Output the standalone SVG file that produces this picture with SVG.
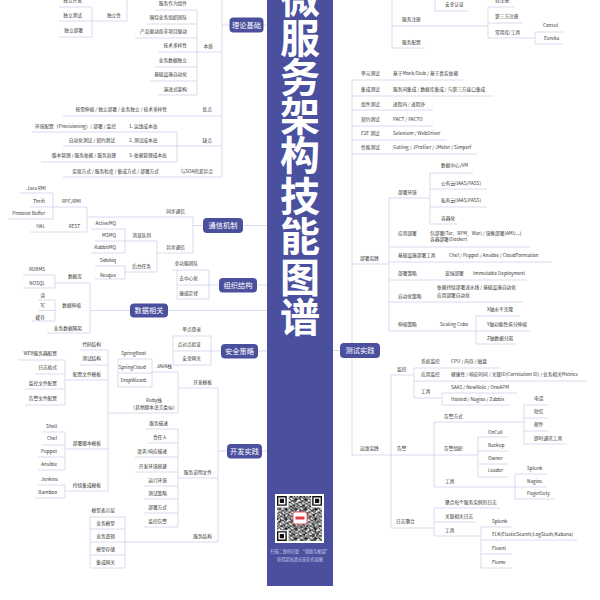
<svg xmlns="http://www.w3.org/2000/svg" width="600" height="600" viewBox="0 0 600 600">
<style>
text{font-family:"Noto Sans CJK SC","Noto Sans",sans-serif}
.t{font-size:4.7px;fill:#333}
.e{text-anchor:end}
.m{text-anchor:middle}
.box{fill:#4a509e}
.ct{font-size:7.2px;fill:#fff;text-anchor:middle}
.ln{fill:none;stroke:#c9cbe8;stroke-width:0.7}
.ti{font-size:40px;font-weight:bold;fill:#fff;text-anchor:middle}
.cap{font-size:4.2px;fill:#c3c6ea;text-anchor:middle}
</style>
<defs>
<pattern id="qr" width="9.8" height="9.8" patternUnits="userSpaceOnUse" x="277" y="496">
<path fill="#111" d="M0 0h1.4v1.4h-1.4zM2.8 0h2.8v1.4h-2.8zM7 0h1.4v1.4h-1.4zM1.4 1.4h1.4v1.4h-1.4zM5.6 1.4h1.4v1.4h-1.4zM8.4 1.4h1.4v2.8h-1.4zM0 2.8h1.4v1.4h-1.4zM2.8 2.8h1.4v1.4h-1.4zM7 2.8h1.4v1.4h-1.4zM4.2 4.2h2.8v1.4h-2.8zM8.4 4.2h1.4v1.4h-1.4zM1.4 5.6h2.8v1.4h-2.8zM7 5.6h1.4v1.4h-1.4zM0 7h1.4v1.4h-1.4zM4.2 7h1.4v1.4h-1.4zM8.4 7h1.4v1.4h-1.4zM1.4 8.4h1.4v1.4h-1.4zM5.6 8.4h2.8v1.4h-2.8z"/>
</pattern>
<pattern id="qr2" width="12.6" height="12.6" patternUnits="userSpaceOnUse" x="277" y="496">
<path fill="#111" d="M1.4 0h1.4v1.4h-1.4zM9.8 1.4h1.4v1.4h-1.4zM4.2 4.2h1.4v1.4h-1.4zM11.2 5.6h1.4v1.4h-1.4zM0 9.8h1.4v1.4h-1.4zM7 8.4h1.4v1.4h-1.4zM2.8 11.2h1.4v1.4h-1.4z"/>
</pattern>
</defs>
<rect width="600" height="600" fill="#fff"/>

<g id="connectors" class="ln">
<path d="M263 25H267M222 25H230M222 0V177M158 52H222M197 10V95M155 10H197M146 24H197M135 38H197M155 67H197M150 81H197M158 95H197M127 -1V21M59 21H127M92 7V37M59 7H92M59 37H92M63 116H222M177 132V162M32 132H177M63 146H222M41 162H177M63 177H222"/>
<path d="M243 225.5H267M193 225.5H203M193 217V253M87 217H193M87 207V232M30 207H87M53 193V219M20 193H53M8 219H53M30 232H87M157 253H193M157 241V272M95 241H157M125 229V253M91 229H125M91 253H125M125 272H157M125 266V279M95 266H125M95 279H125"/>
<path d="M257 285H267M177 270V299M172 270H209M177 285H219M177 299H209M209 270V299"/>
<path d="M168 310.5H267M90 310.5H130M90 283V333M55 283H90M55 275V288M23 275H55M23 288H55M55 300V321M38 300H55M38 310.5H55M32 321H55M47 333H90"/>
<path d="M258 351H267M173 336V365M173 336H211M173 351H221M173 365H211M211 336V365"/>
<path d="M262 451H267M218 451H227M218 388V542M178 388H218M178 372V413M152 372H178M152 359V387M118 359V387M118 359H152M118 373H152M118 387H152M108 413H178M108 350V491M80 350H108M80 365H108M65 380H108M65 360V405M18 360H65M35 374H65M25 389H65M25 405H65M65 449H108M65 432V470M42 432H65M42 445H65M38 457H65M38 470H65M65 491H108M65 485V498M38 485H65M35 498H65"/>
<path d="M178 478H218M178 429V527M145 429H178M148 443H178M135 457H178M135 472H178M144 486H178M144 499H178M144 513H178M144 527H178M125 542H218M125 517V568M90 517V568M90 517H125M90 529H125M90 542H125M90 555H125M90 568H125"/>
<path d="M333 350.5H340M392 -1V48M392 26H488M488 7V38M488 7H515M488 23H523M488 38H535M535 32V44M535 32H563M535 44H563M392 48H425M435 -1V11M435 11H468"/>
<path d="M352 80V455M352 80H463M352 96H494M352 110H433M352 126H433M352 140H447M352 154H477M352 264H389"/>
<path d="M389 198V331M389 198H430M430 173V224M430 173H473M430 189H487M430 207H487M430 224H458M389 247H530M389 262H552M389 280H527M389 302H523M389 331H476M476 316V344M476 316H520M476 331H530M476 344H515"/>
<path d="M352 455H478M391 375V528M391 375H414M414 368V398M414 368H500M414 381H587M414 398H442M442 393V405M442 393H517M442 405H510M434 422V487M434 422H524M524 405V444M524 405H548M524 418H548M524 431H548M524 444H567M478 437V477M478 437H508M478 451H508M478 464H508M478 477H508M434 487H515M515 474V499M515 474H547M515 487H547M515 499H555M391 528H434M434 508V536M434 508H500M434 522H476M434 536H481M481 527V568M481 527H512M481 540H577M481 554H512M481 568H512"/>
</g>

<g id="bar"><rect x="267" y="-1" width="66" height="587" class="box"/></g>
<g id="title">
<text class="ti" x="300" y="13">微</text>
<text class="ti" x="300" y="53">服</text>
<text class="ti" x="300" y="92">务</text>
<text class="ti" x="300" y="131">架</text>
<text class="ti" x="300" y="170">构</text>
<text class="ti" x="300" y="211">技</text>
<text class="ti" x="300" y="251">能</text>
<text class="ti" x="300" y="292">图</text>
<text class="ti" x="300" y="332">谱</text>
</g>
<g id="qrcode">
<rect x="275" y="494" width="49" height="49" fill="#fff"/>
<rect x="277" y="496" width="45" height="45" fill="url(#qr)"/>
<rect x="277" y="496" width="45" height="45" fill="url(#qr2)"/>
<path fill="#fff" d="M276 495h12.6v12.6h-12.6zM311.2 495h12.6v12.6h-12.6zM276 530.2h12.6v12.6h-12.6z"/>
<path fill="#111" fill-rule="evenodd" d="M277 496h9.8v9.8h-9.8zM278.4 497.4v7h7v-7zM279.8 498.8h4.2v4.2h-4.2zM312.2 496h9.8v9.8h-9.8zM313.6 497.4v7h7v-7zM315 498.8h4.2v4.2h-4.2zM277 531.2h9.8v9.8h-9.8zM278.4 532.6v7h7v-7zM279.8 534h4.2v4.2h-4.2z"/>
<rect x="293" y="512" width="14" height="12" rx="2" fill="#fff" stroke="#e23b45" stroke-width="0.8"/>
<rect x="295.5" y="516.5" width="9" height="3" fill="#e23b45"/>
</g>
<g id="caption">
<text class="cap" x="300" y="552.5">扫描二维码回复 “微服务图谱”</text>
<text class="cap" x="300" y="560.5">获得超高清无损彩色原图</text>
</g>

<g id="c-lilun"><rect class="box" x="229.5" y="17.5" width="34" height="15" rx="4"/><text class="ct" x="246.5" y="27.6">理论基础</text></g>
<g id="c-tongxin"><rect class="box" x="203" y="218" width="40" height="15" rx="4"/><text class="ct" x="223" y="228.1">通信机制</text></g>
<g id="c-zuzhi"><rect class="box" x="219" y="278" width="38" height="14.5" rx="4"/><text class="ct" x="238" y="287.8">组织结构</text></g>
<g id="c-shuju"><rect class="box" x="130" y="303.5" width="38" height="14" rx="4"/><text class="ct" x="149" y="313.1">数据相关</text></g>
<g id="c-anquan"><rect class="box" x="221" y="344" width="37" height="14.5" rx="4"/><text class="ct" x="239.5" y="353.8">安全策略</text></g>
<g id="c-kaifa"><rect class="box" x="227" y="444" width="35" height="14.5" rx="4"/><text class="ct" x="244.5" y="453.8">开发实践</text></g>
<g id="c-ceshi"><rect class="box" x="340" y="343" width="40" height="15" rx="4"/><text class="ct" x="360" y="353.1">测试实践</text></g>

<g id="n-duli-kf"><text class="t e" x="82" y="2.3">独立开发</text></g>
<g id="n-duli-cs"><text class="t e" x="82" y="16.8">独立测试</text></g>
<g id="n-duli"><text class="t e" x="121" y="16.8">独立性</text></g>
<g id="n-duli-bs"><text class="t e" x="83" y="32.3">独立部署</text></g>
<g id="n-bz1"><text class="t e" x="187" y="4.8">服务作为组件</text></g>
<g id="n-bz2"><text class="t e" x="187" y="18.8">围绕业务组织团队</text></g>
<g id="n-bz3"><text class="t e" x="187" y="32.8">产品驱动而非项目驱动</text></g>
<g id="n-bz4"><text class="t e" x="187" y="47.3">技术多样性</text></g>
<g id="n-benzhi"><text class="t e" x="213" y="47.8">本质</text></g>
<g id="n-bz5"><text class="t e" x="187" y="61.8">业务数据独立</text></g>
<g id="n-bz6"><text class="t e" x="187" y="75.8">基础设施自动化</text></g>
<g id="n-bz7"><text class="t e" x="187" y="90.5">演进式架构</text></g>
<g id="n-yd1"><text class="t e" x="167" y="110.8">按需伸缩 / 独立部署 / 业务独立 / 技术多样性</text></g>
<g id="n-youdian"><text class="t e" x="212" y="110.8">优点</text></g>
<g id="n-qd1a"><text class="t e" x="116" y="127.5">环境配置（Provisioning）/ 部署 / 监控</text></g>
<g id="n-qd1"><text class="t" x="129" y="127.5">1. 运维成本高</text></g>
<g id="n-qd2a"><text class="t e" x="115" y="141.5">自动化测试 / 契约测试</text></g>
<g id="n-qd2"><text class="t" x="129" y="141.5">2. 测试成本高</text></g>
<g id="n-quedian"><text class="t e" x="212" y="141.5">缺点</text></g>
<g id="n-qd3a"><text class="t e" x="116" y="156.8">版本管理 / 服务依赖 / 服务治理</text></g>
<g id="n-qd3"><text class="t" x="129" y="156.8">3. 依赖管理成本高</text></g>
<g id="n-soa1"><text class="t e" x="159" y="173">实现方式 / 服务粒度 / 集成方式 / 部署方式</text></g>
<g id="n-soa"><text class="t e" x="213" y="173">与SOA的差异点</text></g>

<g id="n-javarmi"><text class="t e" x="46" y="190.1">Java RMI</text></g>
<g id="n-thrift"><text class="t e" x="45" y="202.5">Thrift</text></g>
<g id="n-pb"><text class="t e" x="45" y="214.8">Protocol Buffer</text></g>
<g id="n-rpc"><text class="t e" x="81" y="202.5">RPC/RMI</text></g>
<g id="n-hal"><text class="t e" x="45" y="227.5">HAL</text></g>
<g id="n-rest"><text class="t e" x="80" y="227.5">REST</text></g>
<g id="n-tongbu"><text class="t e" x="185" y="212.5">同步通信</text></g>
<g id="n-activemq"><text class="t e" x="116" y="224.5">ActiveMQ</text></g>
<g id="n-msmq"><text class="t e" x="116" y="237.1">MSMQ</text></g>
<g id="n-xxdl"><text class="t e" x="151" y="237.1">消息队列</text></g>
<g id="n-rabbit"><text class="t e" x="116" y="249.1">RabbitMQ</text></g>
<g id="n-yibu"><text class="t e" x="185" y="249.1">异步通信</text></g>
<g id="n-sidekiq"><text class="t e" x="116" y="261.8">Sidekiq</text></g>
<g id="n-resque"><text class="t e" x="116" y="276.5">Resque</text></g>
<g id="n-htrw"><text class="t e" x="151" y="267.8">后台任务</text></g>

<g id="n-qgn"><text class="t e" x="198" y="265.1">全功能团队</text></g>
<g id="n-qzx"><text class="t e" x="198" y="279.8">去中心化</text></g>
<g id="n-kwdl"><text class="t e" x="198" y="294.5">康威定律</text></g>

<g id="n-rdbms"><text class="t e" x="45" y="271.1">RDBMS</text></g>
<g id="n-nosql"><text class="t e" x="45" y="284.5">NOSQL</text></g>
<g id="n-sjk"><text class="t e" x="82" y="277.8">数据库</text></g>
<g id="n-du"><text class="t e" x="45" y="297.1">读</text></g>
<g id="n-xie"><text class="t e" x="45" y="306.8">写</text></g>
<g id="n-sjss"><text class="t e" x="81" y="306.8">数据伸缩</text></g>
<g id="n-hc"><text class="t e" x="45" y="318.5">缓存</text></g>
<g id="n-ywsjgl"><text class="t e" x="82" y="330.1">业务数据隔离</text></g>

<g id="n-sso"><text class="t e" x="201" y="331.1">单点登录</text></g>
<g id="n-ddd"><text class="t e" x="201" y="345.8">点对点验证</text></g>
<g id="n-aqwg"><text class="t e" x="201" y="360.1">安全网关</text></g>

<g id="n-dmjg"><text class="t e" x="101" y="345.8">代码结构</text></g>
<g id="n-csjg"><text class="t e" x="101" y="360.1">测试结构</text></g>
<g id="n-pzwj"><text class="t e" x="101" y="375.8">配置文件模板</text></g>
<g id="n-web"><text class="t e" x="57" y="354.5">WEB服务器配置</text></g>
<g id="n-rzgs"><text class="t e" x="57" y="369.1">日志格式</text></g>
<g id="n-jkwj"><text class="t e" x="57" y="384.5">监控文件配置</text></g>
<g id="n-gjwj"><text class="t e" x="57" y="400.1">告警文件配置</text></g>
<g id="n-sboot"><text class="t e" x="146" y="354.5">SpringBoot</text></g>
<g id="n-scloud"><text class="t e" x="146" y="368.5">SpringCloud</text></g>
<g id="n-dropw"><text class="t e" x="146" y="382.1">DropWizard</text></g>
<g id="n-java"><text class="t e" x="172" y="367.8">JAVA栈</text></g>
<g id="n-kfmb"><text class="t e" x="212" y="383.5">开发模板</text></g>
<g id="n-ruby"><text class="t m" x="154" y="401.8">Ruby栈</text><text class="t m" x="154" y="408.5">（其他脚本语言类似）</text></g>
<g id="n-fwms"><text class="t e" x="168" y="424.5">服务描述</text></g>
<g id="n-zrr"><text class="t e" x="167" y="438.5">责任人</text></g>
<g id="n-shell"><text class="t e" x="57" y="427.8">Shell</text></g>
<g id="n-chef"><text class="t e" x="57" y="440.1">Chef</text></g>
<g id="n-bsjb"><text class="t e" x="101" y="444.5">部署脚本模板</text></g>
<g id="n-puppet"><text class="t e" x="57" y="452.5">Puppet</text></g>
<g id="n-ansible"><text class="t e" x="57" y="465.8">Ansible</text></g>
<g id="n-jenkins"><text class="t e" x="58" y="480.8">Jenkins</text></g>
<g id="n-bamboo"><text class="t e" x="57" y="494.1">Bamboo</text></g>
<g id="n-cxjc"><text class="t e" x="101" y="486.5">持续集成模板</text></g>
<g id="n-qqxy"><text class="t e" x="167" y="452.8">请求/响应描述</text></g>
<g id="n-kfhj"><text class="t e" x="167" y="467.5">开发环境搭建</text></g>
<g id="n-yxhj"><text class="t e" x="167" y="481.8">运行环境</text></g>
<g id="n-cscl"><text class="t e" x="167" y="495.1">测试策略</text></g>
<g id="n-bsfs"><text class="t e" x="167" y="508.8">部署方式</text></g>
<g id="n-jkgj"><text class="t e" x="167" y="522.5">监控告警</text></g>
<g id="n-fwsm"><text class="t e" x="212" y="473.5">服务说明文件</text></g>
<g id="n-mxbs"><text class="t e" x="115" y="511.8">模型表示层</text></g>
<g id="n-ywmx"><text class="t e" x="115" y="524.5">业务模型</text></g>
<g id="n-ywlj"><text class="t e" x="115" y="537.8">业务逻辑</text></g>
<g id="n-mxcc"><text class="t e" x="115" y="550.8">模型存储</text></g>
<g id="n-jcwg"><text class="t e" x="115" y="564.1">集成网关</text></g>
<g id="n-fwjg"><text class="t e" x="212" y="537.8">服务结构</text></g>

<g id="n-aqrz"><text class="t" x="445" y="5.8">安全认证</text></g>
<g id="n-zzc"><text class="t" x="495" y="1.8">自注册</text></g>
<g id="n-fwzc"><text class="t" x="402" y="20.8">服务注册</text></g>
<g id="n-dsf"><text class="t" x="495" y="17.5">第三方注册</text></g>
<g id="n-cyk"><text class="t" x="495" y="33.5">常用库/工具</text></g>
<g id="n-consul"><text class="t" x="543" y="26.8">Consul</text></g>
<g id="n-eureka"><text class="t" x="544" y="39.5">Eureka</text></g>
<g id="n-fwpz"><text class="t" x="402" y="43.5">服务配置</text></g>

<g id="n-dycs"><text class="t" x="361" y="75.1">单元测试</text><text class="t" x="393" y="75.1">基于Mock/Stub / 基于真实依赖</text></g>
<g id="n-jccs"><text class="t" x="361" y="91.1">集成测试</text><text class="t" x="393" y="91.1">服务间集成 / 数据库集成 / 与第三方接口集成</text></g>
<g id="n-zjcs"><text class="t" x="361" y="105.5">组件测试</text><text class="t" x="393" y="105.5">进程内 / 进程外</text></g>
<g id="n-qycs"><text class="t" x="361" y="120.5">契约测试</text><text class="t" x="393" y="120.5">PACT / PACTO</text></g>
<g id="n-e2e"><text class="t" x="361" y="134.8">E2E 测试</text><text class="t" x="393" y="134.8">Selenium / WebDriver</text></g>
<g id="n-xncs"><text class="t" x="361" y="149.1">性能测试</text><text class="t" x="393" y="149.1">Gatling / JProfiler / JMeter / Simperf</text></g>

<g id="n-sjzx"><text class="t" x="441" y="166.8">数据中心/VM</text></g>
<g id="n-gyy"><text class="t" x="441" y="184.5">公有云(IAAS/PASS)</text></g>
<g id="n-bshj"><text class="t" x="398" y="193.5">部署环境</text></g>
<g id="n-syy"><text class="t" x="441" y="201.8">私有云(IAAS/PASS)</text></g>
<g id="n-rqh"><text class="t" x="441" y="219.5">容器化</text></g>
<g id="n-yybs"><text class="t" x="398" y="234.5">应用部署</text><text class="t" x="430" y="235.1">包部署(Tar、RPM、War)  /  镜像部署(AMI/...)</text><text class="t" x="430" y="241.1">容器部署(Docker)</text></g>
<g id="n-jcss"><text class="t" x="398" y="257.1">基础设施部署工具</text><text class="t" x="449" y="257.1">Chef  /  Puppet  /  Ansible  /  CloudFormation</text></g>
<g id="n-bssj"><text class="t" x="360" y="259.5">部署实践</text></g>
<g id="n-bscl"><text class="t" x="398" y="275.1">部署策略</text><text class="t" x="445" y="275.1">蓝绿部署</text><text class="t" x="473" y="275.1">Immutable Deployment</text></g>
<g id="n-zdh"><text class="t" x="398" y="297.5">自动化策略</text><text class="t" x="437" y="289.1">依赖持续部署流水线  /  基础设施自动化</text><text class="t" x="437" y="296.8">应用部署自动化</text></g>
<g id="n-x"><text class="t" x="487" y="310.8">X轴水平克隆</text></g>
<g id="n-sscl"><text class="t" x="398" y="325.8">伸缩策略</text></g>
<g id="n-cube"><text class="t" x="440" y="325.8">Scaling Cube</text></g>
<g id="n-y"><text class="t" x="487" y="325.8">Y轴功能性拆分伸缩</text></g>
<g id="n-z"><text class="t" x="487" y="340.1">Z轴数据分离</text></g>

<g id="n-xtjk"><text class="t" x="421" y="362.5">系统监控</text><text class="t" x="451" y="362.5">CPU  /  内存  /  磁盘</text></g>
<g id="n-jk"><text class="t" x="397" y="371.1">监控</text></g>
<g id="n-yyjk"><text class="t" x="421" y="375.8">应用监控</text><text class="t" x="451" y="375.8">健康性  /  响应时间  /  关联ID(Correlation ID)  /  业务相关Metrics</text></g>
<g id="n-jkgj2"><text class="t" x="421" y="392.5">工具</text><text class="t" x="451" y="389.1">SAAS  /  NewRelic  /  OneAPM</text><text class="t" x="451" y="401.1">Hosted  /  Nagios  /  Zabbix</text></g>
<g id="n-dh"><text class="t" x="534" y="399.8">电话</text></g>
<g id="n-dx"><text class="t" x="534" y="412.8">短信</text></g>
<g id="n-gjfs"><text class="t" x="444" y="417.8">告警方式</text></g>
<g id="n-yj"><text class="t" x="534" y="426.1">邮件</text></g>
<g id="n-oncall"><text class="t" x="488" y="434.1">OnCall</text></g>
<g id="n-jstx"><text class="t" x="534" y="439.5">即时通讯工具</text></g>
<g id="n-backup"><text class="t" x="488" y="446.8">Backup</text></g>
<g id="n-ywsj"><text class="t" x="360" y="450.1">运维实践</text></g>
<g id="n-gj"><text class="t" x="397" y="450.1">告警</text></g>
<g id="n-gjzz"><text class="t" x="444" y="450.1">告警组织</text></g>
<g id="n-owner"><text class="t" x="488" y="459.5">Owner</text></g>
<g id="n-splunk1"><text class="t" x="527" y="469.8">Splunk</text></g>
<g id="n-leader"><text class="t" x="488" y="472.1">Leader</text></g>
<g id="n-gjgj"><text class="t" x="445" y="482.5">工具</text></g>
<g id="n-nagios"><text class="t" x="527" y="482.8">Nagios</text></g>
<g id="n-pager"><text class="t" x="527" y="495.1">PagerDuty</text></g>
<g id="n-jhrz"><text class="t" x="445" y="503.5">聚合每个服务实例的日志</text></g>
<g id="n-glrz"><text class="t" x="445" y="517.8">关联相关日志</text></g>
<g id="n-rzjh"><text class="t" x="396" y="522.8">日志聚合</text></g>
<g id="n-splunk2"><text class="t" x="492" y="522.8">Splunk</text></g>
<g id="n-rzgj"><text class="t" x="445" y="531.8">工具</text></g>
<g id="n-elk"><text class="t" x="492" y="536.1">ELK(ElasticSearch/LogStash/Kabana)</text></g>
<g id="n-fluent"><text class="t" x="492" y="549.5">Fluent</text></g>
<g id="n-flume"><text class="t" x="492" y="563.5">Flume</text></g>
</svg>
